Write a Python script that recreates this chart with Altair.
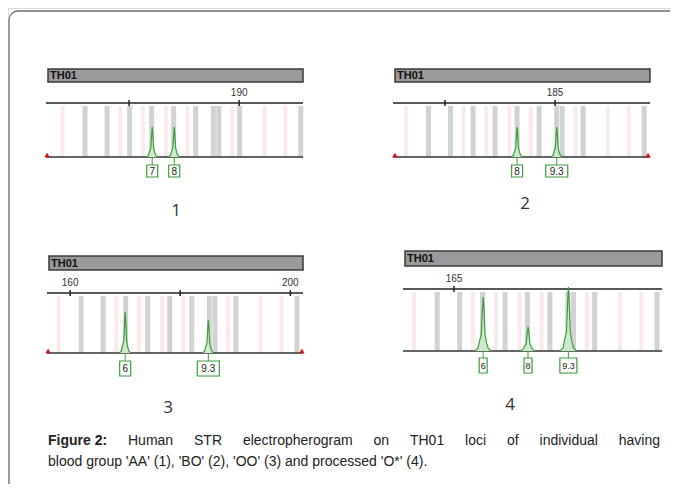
import altair as alt
import pandas as pd

# ------------------------------------------------------------------ data
panel_ids = [1, 2, 3, 4]
panel_names = ["1", "2", "3", "4"]
locus_name = "TH01"

allele_labels = {1: ["7", "8"], 2: ["8", "9.3"], 3: ["6", "9.3"], 4: ["6", "8", "9.3"]}
allele_sizes = {1: [174.2, 178.2], 2: [178.1, 185.3], 3: [170.0, 185.1], 4: [170.2, 178.2, 185.4]}
peak_heights = {1: [1000, 1000], 2: [1000, 1000], 3: [1230, 990], 4: [1570, 700, 1860]}

tick_values = {1: [170, 190], 2: [165, 185], 3: [160, 180, 200], 4: [165]}
tick_labels = {1: ["", "190"], 2: ["", "185"], 3: ["160", "", "200"], 4: ["165"]}
size_ranges = {1: [154.9, 201.6], 2: [155.55, 202.25], 3: [155.8, 202.3], 4: [155.9, 202.1]}
rfu_range = [0, 1800]

end_markers = {1: [155.1], 2: [155.9, 201.9], 3: [156.0, 202.1], 4: []}

ladder_bins = [162.0, 166.0, 170.1, 174.1, 178.1, 182.1, 185.3, 186.3, 190.1, 201.2]
virtual_bins = [157.9, 168.4, 172.5, 176.7, 180.6, 188.7, 194.6, 198.4]

peak_shape_offsets = [-1.1, -0.7, -0.45, -0.25, -0.1, 0.0, 0.1, 0.25, 0.45, 0.7, 1.1]
peak_shape_fractions = [0.0, 0.05, 0.2, 0.3, 0.75, 1.0, 0.8, 0.3, 0.15, 0.04, 0.0]

caption_bold = "Figure 2:"
caption_line1 = ["Human", "STR", "electropherogram", "on", "TH01", "loci", "of", "individual", "having"]
caption_line2 = "blood group 'AA' (1), 'BO' (2), 'OO' (3) and processed 'O*' (4)."

# ------------------------------------------------------------------ layout (image pixels)
M = 8  # page margin
layout = {
    1: dict(x0=46, x1=303, head=(69, 82), axis=103, base=157, box=(165, 177), num=(176, 211),
            box1=11, box3=22, peakw=1.0, fs=10),
    2: dict(x0=393, x1=650, head=(69, 82), axis=103, base=157, box=(165, 177), num=(525, 204),
            box1=11, box3=22, peakw=1.0, fs=10),
    3: dict(x0=47, x1=303, head=(256, 270), axis=293, base=353, box=(361, 376), num=(168, 408),
            box1=11, box3=22, peakw=1.0, fs=10),
    4: dict(x0=403, x1=662, head=(251, 266), axis=289, base=351, box=(358, 373), num=(510, 405),
            box1=8, box3=17, peakw=1.35, fs=9),
}

GREEN = "#3c9c3c"
GREEN_FILL = "#cfe9cf"
GRAY_BIN = "#d2d2d2"
PINK_BIN = "#fbe8e8"
one = pd.DataFrame({"k": [0]})


def P(v):
    return v - M


def panel(pid):
    L = layout[pid]
    d0, d1 = size_ranges[pid]
    ppb = (L["x1"] - L["x0"]) / (d1 - d0)
    xs = alt.Scale(domain=[d0, d1], range=[P(L["x0"]), P(L["x1"])])
    ys = alt.Scale(domain=rfu_range, range=[P(L["base"]), P(L["axis"])])

    layers = []
    # header bar
    layers.append(alt.Chart(one).mark_rect(fill="#9a9a9a", stroke="#3a3a3a", strokeWidth=1.5).encode(
        x=alt.value(P(L["x0"] + 2)), x2=alt.value(P(L["x1"])),
        y=alt.value(P(L["head"][0])), y2=alt.value(P(L["head"][1]))))
    layers.append(alt.Chart(pd.DataFrame({"t": [locus_name]})).mark_text(
        align="left", baseline="middle", font="Liberation Sans", fontWeight="bold", fontSize=11,
        color="#111").encode(
        x=alt.value(P(L["x0"] + 4)), y=alt.value(P((L["head"][0] + L["head"][1]) / 2 + 0.5)), text="t:N"))

    # bins
    lb = pd.DataFrame({"c": [b for b in ladder_bins if d0 < b < d1]})
    vb = pd.DataFrame({"c": [b for b in virtual_bins if d0 < b < d1]})
    for df, col, hw in ((vb, PINK_BIN, 0.35), (lb, GRAY_BIN, 0.45)):
        layers.append(alt.Chart(df).transform_calculate(
            lo=f"datum.c - {hw}", hi=f"datum.c + {hw}").mark_rect(fill=col).encode(
            x=alt.X("lo:Q", scale=xs, axis=None), x2="hi:Q",
            y=alt.value(P(L["axis"] + 3)), y2=alt.value(P(L["base"]))))

    # axis line + ticks + labels
    layers.append(alt.Chart(one).mark_rule(color="#222", strokeWidth=1.4).encode(
        x=alt.value(P(L["x0"])), x2=alt.value(P(L["x1"])), y=alt.value(P(L["axis"]))))
    tk = pd.DataFrame({"v": tick_values[pid], "lab": tick_labels[pid]})
    layers.append(alt.Chart(tk).mark_rule(color="#222", strokeWidth=1.5).encode(
        x=alt.X("v:Q", scale=xs, axis=None), y=alt.value(P(L["axis"] - 3)), y2=alt.value(P(L["axis"] + 3))))
    layers.append(alt.Chart(tk).mark_text(fontSize=10, font="Liberation Sans", color="#333",
                                          baseline="alphabetic").encode(
        x=alt.X("v:Q", scale=xs, axis=None), y=alt.value(P(L["axis"] - 7)), text="lab:N"))

    # baseline
    layers.append(alt.Chart(one).mark_rule(color="#333", strokeWidth=1.3).encode(
        x=alt.value(P(L["x0"])), x2=alt.value(P(L["x1"])), y=alt.value(P(L["base"]))))

    # peaks
    rows = []
    for i, (s, h) in enumerate(zip(allele_sizes[pid], peak_heights[pid])):
        for off, f in zip(peak_shape_offsets, peak_shape_fractions):
            rows.append(dict(pid=i, bp=s + off * L["peakw"], rfu=h * f))
    pk = pd.DataFrame(rows)
    layers.append(alt.Chart(pk).mark_area(color=GREEN_FILL, opacity=1,
                                          line={"color": GREEN, "strokeWidth": 1.2}).encode(
        x=alt.X("bp:Q", scale=xs, axis=None),
        y=alt.Y("rfu:Q", scale=ys, axis=None, stack=None),
        detail="pid:N"))

    # end markers
    if end_markers[pid]:
        em = pd.DataFrame({"bp": end_markers[pid]})
        layers.append(alt.Chart(em).mark_point(shape="triangle-up", filled=True, color="#e01010",
                                               size=30, opacity=1).encode(
            x=alt.X("bp:Q", scale=xs, axis=None), y=alt.value(P(L["base"] - 2))))

    # allele labels
    lab = pd.DataFrame({"bp": allele_sizes[pid], "lab": allele_labels[pid]})
    lab["hw"] = [(L["box1"] if len(t) == 1 else L["box3"]) / ppb / 2 for t in lab["lab"]]
    layers.append(alt.Chart(lab).mark_rule(color=GREEN, strokeWidth=1).encode(
        x=alt.X("bp:Q", scale=xs, axis=None), y=alt.value(P(L["base"])), y2=alt.value(P(L["box"][0]))))
    layers.append(alt.Chart(lab).transform_calculate(
        lo="datum.bp - datum.hw", hi="datum.bp + datum.hw").mark_rect(
        fill="white", stroke=GREEN, strokeWidth=1.2).encode(
        x=alt.X("lo:Q", scale=xs, axis=None), x2="hi:Q",
        y=alt.value(P(L["box"][0])), y2=alt.value(P(L["box"][1]))))
    layers.append(alt.Chart(lab).mark_text(fontSize=L["fs"], font="Liberation Sans", color="#222",
                                           baseline="middle").encode(
        x=alt.X("bp:Q", scale=xs, axis=None), y=alt.value(P((L["box"][0] + L["box"][1]) / 2 + 0.5)),
        text="lab:N"))

    # panel number
    layers.append(alt.Chart(pd.DataFrame({"t": [panel_names[pid - 1]]})).mark_text(
        fontSize=17, font="Open Sans", color="#333", baseline="middle").encode(
        x=alt.value(P(L["num"][0])), y=alt.value(P(L["num"][1])), text="t:N"))

    return alt.layer(*layers)


# ------------------------------------------------------------------ caption layout
W_REG = {" ": 278, "'": 191, "(": 333, ")": 333, "*": 389, ",": 278, ".": 278, ":": 278,
         "A": 667, "B": 667, "F": 611, "H": 722, "O": 778, "R": 722, "S": 667, "T": 611,
         "a": 556, "b": 556, "c": 500, "d": 556, "e": 556, "f": 278, "g": 556, "h": 556, "i": 222,
         "l": 222, "m": 833, "n": 556, "o": 556, "p": 556, "r": 333, "s": 500, "t": 278,
         "u": 556, "v": 500, "y": 500}
W_BOLD = {"F": 611, "i": 278, "g": 611, "u": 611, "r": 389, "e": 556, " ": 278, "2": 556, ":": 333}
CAP_FONT = "Liberation Sans"
CAP_FS = 14
CAP_L, CAP_R = 48, 660
CAP_Y1, CAP_Y2 = 445, 466


def width(s, table):
    return sum(table.get(ch, 556) for ch in s) * CAP_FS / 1000


words = [(caption_bold, True)] + [(w, False) for w in caption_line1]
widths = [width(w, W_BOLD if b else W_REG) for w, b in words]
gap = (CAP_R - CAP_L - sum(widths)) / (len(words) - 1)

cap_layers = []
xpos = CAP_L
for (w, b), wd in zip(words, widths):
    cap_layers.append(alt.Chart(pd.DataFrame({"t": [w]})).mark_text(
        align="left", baseline="alphabetic", font=CAP_FONT, fontSize=CAP_FS,
        fontWeight="bold" if b else "normal", color="#222").encode(
        x=alt.value(P(xpos)), y=alt.value(P(CAP_Y1)), text="t:N"))
    xpos += wd + gap
cap_layers.append(alt.Chart(pd.DataFrame({"t": [caption_line2]})).mark_text(
    align="left", baseline="alphabetic", font=CAP_FONT, fontSize=CAP_FS, color="#222").encode(
    x=alt.value(P(CAP_L)), y=alt.value(P(CAP_Y2)), text="t:N"))

border = alt.Chart(one).mark_rect(fill="white", fillOpacity=0, stroke="#6e6e6e", strokeWidth=1.3,
                                  cornerRadius=9).encode(
    x=alt.value(P(9)), y=alt.value(P(11)), x2=alt.value(P(720)), y2=alt.value(P(560)))

chart = alt.layer(border, *[panel(p) for p in panel_ids], *cap_layers).resolve_scale(
    x="independent", y="independent").properties(
    width=662, height=476, autosize=alt.AutoSizeParams(type="none"), padding=0
).configure_view(stroke=None).configure(background="white")

chart.save("out.html", embed_options={"renderer": "svg", "actions": False})
